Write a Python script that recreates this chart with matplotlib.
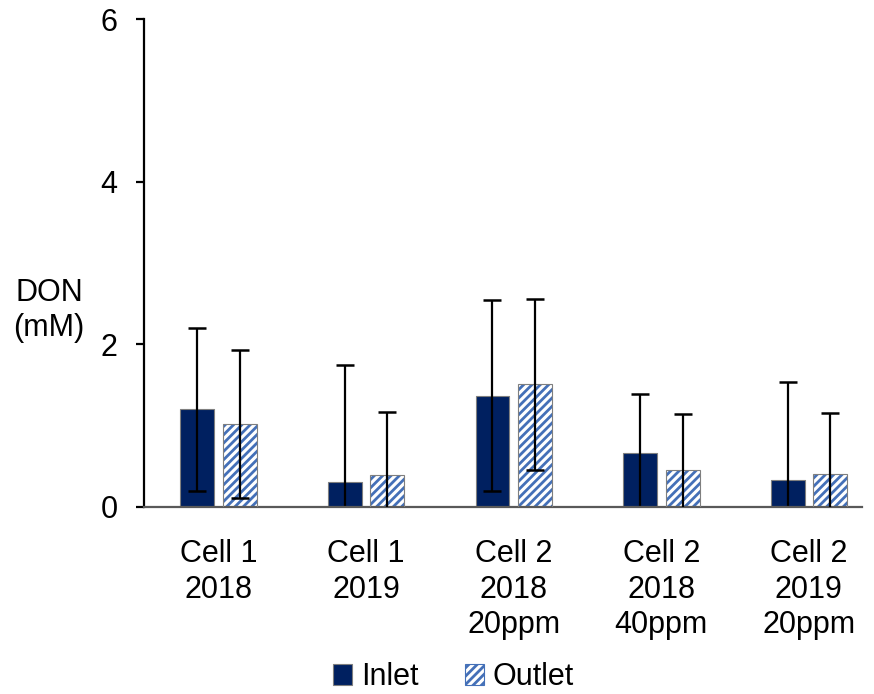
import numpy as np
import matplotlib
matplotlib.use('Agg')
import matplotlib.pyplot as plt
from matplotlib.patches import Patch

# DON concentrations per cell / year
categories = ["Cell 1\n2018", "Cell 1\n2019", "Cell 2\n2018\n20ppm", "Cell 2\n2018\n40ppm", "Cell 2\n2019\n20ppm"]
inlet_mean = [1.20, 0.31, 1.37, 0.66, 0.33]
inlet_err = [1.00, 1.44, 1.17, 0.73, 1.21]
outlet_mean = [1.02, 0.39, 1.51, 0.45, 0.41]
outlet_err = [0.91, 0.78, 1.05, 0.69, 0.74]

inlet_color = '#002060'
hatch_color = '#4470b8'
edge_gray = '#7f7f7f'

plt.rcParams['font.family'] = ['Liberation Sans', 'DejaVu Sans']
plt.rcParams['hatch.linewidth'] = 2.0

fig = plt.figure(figsize=(8.74, 6.94), dpi=100)
ax = fig.add_axes([0.1648, 0.2695, 0.8215, 0.7031])

x = np.arange(len(categories))
width = 0.23
off = 0.144

err_kw = dict(ecolor='black', elinewidth=1.6, capsize=6.5, capthick=1.8)

ax.bar(x - off, inlet_mean, width, color=inlet_color, edgecolor=edge_gray, linewidth=0.8,
       yerr=inlet_err, error_kw=err_kw, zorder=2)
# hatched outlet bars: stripes first, then grey outline on top
ax.bar(x + off, outlet_mean, width, color='white', edgecolor=hatch_color, linewidth=0,
       hatch='////', zorder=2)
ax.bar(x + off, outlet_mean, width, fill=False, edgecolor=edge_gray, linewidth=0.8,
       yerr=outlet_err, error_kw=err_kw, zorder=3)

ax.set_ylim(0, 6)
ax.set_xlim(-0.505, 4.36)
ax.set_yticks([0, 2, 4, 6])
ax.set_xticks(x)
ax.set_xticklabels(categories, fontsize=22, linespacing=1.25)
ax.tick_params(axis='x', length=0, pad=23)
ax.tick_params(axis='y', labelsize=22, length=6, width=1.6, pad=13, direction='out')

for side in ['top', 'right']:
    ax.spines[side].set_visible(False)
ax.spines['left'].set_linewidth(1.6)
ax.spines['bottom'].set_linewidth(1.6)
ax.spines['bottom'].set_color('#595959')

fig.text(0.056, 0.553, "DON\n(mM)", fontsize=22, ha='center', va='center', linespacing=1.2)

handles = [Patch(facecolor=inlet_color, edgecolor=edge_gray, linewidth=0.8, label='Inlet'),
           Patch(facecolor='white', edgecolor=hatch_color, hatch='////', linewidth=0.8, label='Outlet')]
fig.legend(handles=handles, loc='center', bbox_to_anchor=(0.519, 0.024), ncol=2, frameon=False,
           fontsize=22, handlelength=0.62, handleheight=0.65, handletextpad=0.3, columnspacing=1.5,
           borderpad=0)

fig.savefig('out.png', dpi=100)
